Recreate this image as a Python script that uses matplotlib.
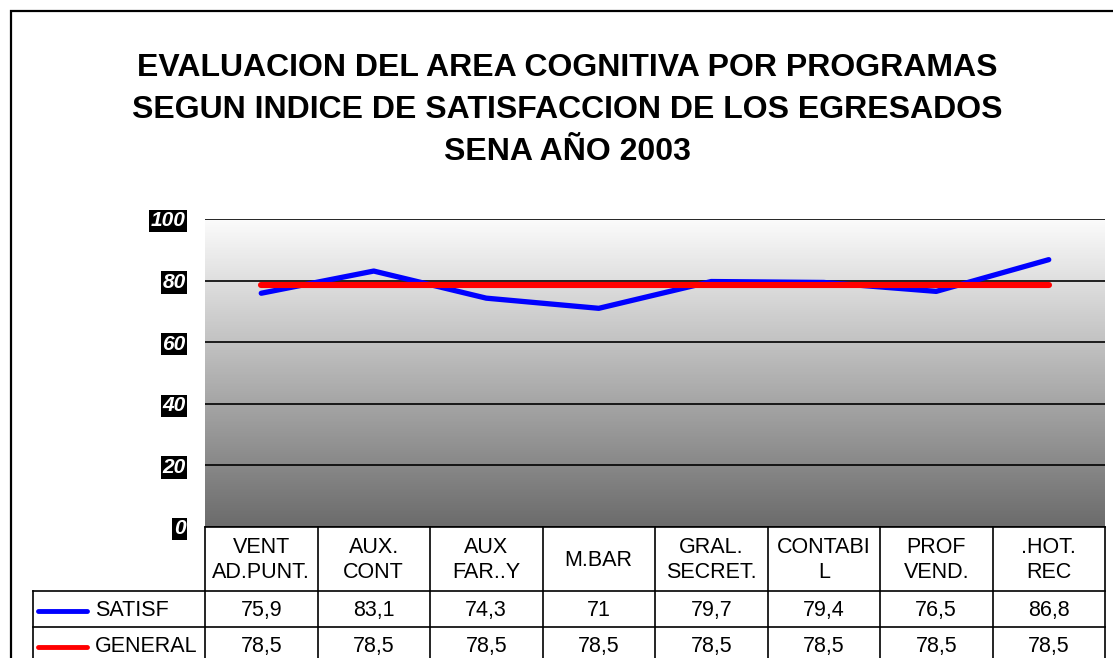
#!/usr/bin/env python3
"""Evaluacion del area cognitiva por programas - SENA 2003."""

import matplotlib
matplotlib.use("Agg")
import matplotlib.pyplot as plt
import matplotlib.transforms as mtransforms
import numpy as np
from matplotlib.patches import Rectangle

plt.rcParams["font.family"] = ["Liberation Sans", "DejaVu Sans"]

programs = ["VENT\nAD.PUNT.", "AUX.\nCONT", "AUX\nFAR..Y", "M.BAR",
            "GRAL.\nSECRET.", "CONTABI\nL", "PROF\nVEND.", ".HOT.\nREC"]
satisf = [75.9, 83.1, 74.3, 71, 79.7, 79.4, 76.5, 86.8]
general = [78.5, 78.5, 78.5, 78.5, 78.5, 78.5, 78.5, 78.5]
series_names = ["SATISF", "GENERAL"]
series_colors = ["#0000ff", "#ff0000"]
yticks = [0, 20, 40, 60, 80, 100]

W, H = 1113, 658
AX_H = 308  # plot area height in px
COL_W = 112.5  # one category column in px


def fmt(v):
    return f"{v:g}".replace(".", ",")


def main():
    fig = plt.figure(figsize=(W / 100, H / 100), dpi=100)
    # plot area in pixels: x 205..1105, y 219..527
    ax = fig.add_axes([205 / W, 1 - 527 / H, 900 / W, AX_H / H])

    n = len(programs)
    x = np.arange(n)
    ax.set_xlim(-0.5, n - 0.5)

    # vertical grey gradient background (dark at bottom)
    grad = np.linspace(0.42, 0.985, 256).reshape(-1, 1)
    ax.imshow(grad, cmap="gray", vmin=0, vmax=1, aspect="auto", origin="lower",
              extent=[-0.5, n - 0.5, 0, 100], zorder=0, interpolation="bicubic")
    ax.set_ylim(0, 100)

    for yv in yticks:
        ax.axhline(yv, color="black", lw=1.2, zorder=1)

    ax.plot(x, satisf, color=series_colors[0], lw=3.8, zorder=3,
            solid_capstyle="round")
    ax.plot(x, general, color=series_colors[1], lw=4.4, zorder=4,
            solid_capstyle="round")

    for s in ax.spines.values():
        s.set_visible(False)
    ax.set_xticks([])
    ax.set_yticks(yticks)
    ax.tick_params(axis="y", length=0, pad=14)
    for lbl in ax.get_yticklabels():
        lbl.set_fontsize(15)
        lbl.set_fontweight("bold")
        lbl.set_fontstyle("italic")
        lbl.set_color("white")
        lbl.set_bbox(dict(facecolor="black", edgecolor="none", pad=1.2))

    # data table under the plot: x in data units, y in axes fraction
    trans = mtransforms.blended_transform_factory(ax.transData, ax.transAxes)
    head_h, row_h = 64 / AX_H, 36 / AX_H
    x_lab = -0.5 - 172 / COL_W
    line_kw = dict(transform=trans, clip_on=False, color="black", lw=1.2)

    y_rows = [0, -head_h, -head_h - row_h, -head_h - 2 * row_h]
    ax.plot([-0.5, n - 0.5], [y_rows[0]] * 2, **line_kw)
    for yy in y_rows[1:]:
        ax.plot([x_lab, n - 0.5], [yy] * 2, **line_kw)
    for k in range(n + 1):
        ax.plot([k - 0.5] * 2, [0, y_rows[-1]], **line_kw)
    ax.plot([x_lab] * 2, [y_rows[1], y_rows[-1]], **line_kw)

    for i, name in enumerate(programs):
        ax.text(i, -head_h / 2 - 1 / AX_H, name, transform=trans, ha="center",
                va="center", fontsize=15.5, linespacing=1.3)
    for r, vals in enumerate([satisf, general]):
        yc = -head_h - row_h * (r + 0.5) - 1.5 / AX_H
        for i, v in enumerate(vals):
            ax.text(i, yc, fmt(v), transform=trans, ha="center", va="center",
                    fontsize=15.5)
        ax.text(-0.5 - 110 / COL_W, yc, series_names[r], transform=trans,
                ha="left", va="center", fontsize=15.5)
        # legend key
        ax.plot([-0.5 - 167 / COL_W, -0.5 - 118 / COL_W], [yc, yc],
                transform=trans, clip_on=False, color=series_colors[r],
                lw=3.5, solid_capstyle="round", zorder=10)

    fig.text(567 / W, 1 - 110 / H,
             "EVALUACION DEL AREA COGNITIVA POR PROGRAMAS\n"
             "SEGUN INDICE DE SATISFACCION DE LOS EGRESADOS\n"
             "SENA AÑO 2003",
             ha="center", va="center", fontsize=23, fontweight="bold",
             linespacing=1.5)

    # outer chart frame (runs past right/bottom edge)
    fig.patches.append(Rectangle((11 / W, -0.1), 1.2, 1 - 11 / H + 0.1,
                                 transform=fig.transFigure, fill=False,
                                 edgecolor="black", lw=1.6))

    fig.savefig("out.png", dpi=100)
    plt.close(fig)


if __name__ == "__main__":
    main()
